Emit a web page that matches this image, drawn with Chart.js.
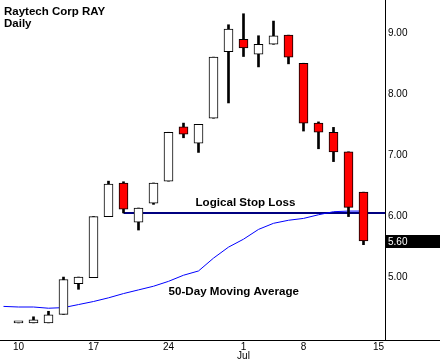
<!DOCTYPE html>
<html>
<head>
<meta charset="utf-8">
<script src="https://cdn.jsdelivr.net/npm/chart.js@4.4.1/dist/chart.umd.min.js"></script>
<style>
  html, body { margin: 0; padding: 0; background: #ffffff; }
  #wrap { width: 440px; height: 361px; }
</style>
</head>
<body>
<div id="wrap"><canvas id="chart"></canvas></div>
<script>
// daily bars, Jun 10 .. Jul 12
const days = ['Jun 10', 'Jun 11', 'Jun 12', 'Jun 13', 'Jun 14',
              'Jun 17', 'Jun 18', 'Jun 19', 'Jun 20', 'Jun 21',
              'Jun 24', 'Jun 25', 'Jun 26', 'Jun 27', 'Jun 28',
              'Jul 1', 'Jul 2', 'Jul 3', 'Jul 5',
              'Jul 8', 'Jul 9', 'Jul 10', 'Jul 11', 'Jul 12']
const open  = [4.26, 4.26, 4.26, 4.40, 4.90, 5.00, 6.00, 6.55, 5.91, 6.22, 6.58, 7.47, 7.20, 7.61, 8.70, 8.90, 8.66, 8.82, 8.97, 8.51, 7.53, 7.38, 7.06, 6.40]
const high  = [4.26, 4.36, 4.45, 5.01, 5.01, 6.00, 6.58, 6.57, 6.14, 6.55, 7.38, 7.53, 7.51, 8.61, 9.14, 9.32, 8.96, 9.20, 8.97, 8.51, 7.55, 7.46, 7.06, 6.40]
const low   = [4.26, 4.26, 4.26, 4.40, 4.81, 5.00, 6.00, 6.06, 5.78, 6.20, 6.58, 7.29, 7.05, 7.61, 7.86, 8.62, 8.45, 8.82, 8.50, 7.40, 7.11, 6.90, 6.00, 5.54]
const close = [4.26, 4.31, 4.39, 4.97, 5.01, 6.00, 6.53, 6.12, 6.14, 6.55, 7.38, 7.35, 7.51, 8.61, 9.07, 8.76, 8.82, 8.96, 8.61, 7.53, 7.38, 7.06, 6.15, 5.60]

// 50-day moving average, starts one bar before Jun 10 (Jun 7)
const maStart = -1
const ma50 = [4.53, 4.52, 4.52, 4.50, 4.51, 4.56, 4.61, 4.67, 4.74, 4.80, 4.86, 4.94, 5.04,
              5.11, 5.32, 5.50, 5.63, 5.79, 5.89, 5.94, 5.97, 6.03, 6.08, 6.09, 6.09]

// stop loss = low of Jun 19
const stopLoss = 6.06
const stopFrom = 7

// x axis: bar index -> label (Jul 15 is the next, empty, bar)
const tickIndex  = [0, 5, 10, 15, 19, 24]
const tickLabels = ['10', '17', '24', ['1', 'Jul'], '8', '15']
const priceTicks = [5, 6, 7, 8, 9]

const FONT = "'Liberation Sans', Arial, sans-serif"
Chart.defaults.font.family = FONT
Chart.defaults.color = '#000000'

const xMin = -1.2333, xMax = 24.4333

const overlay = {
    id: 'overlay',
    afterDraw(chart) {
        const ctx = chart.ctx
        const area = chart.chartArea
        const xs = chart.scales.x, ys = chart.scales.y
        ctx.save()

        // bottom axis line runs under the price labels too
        ctx.strokeStyle = '#000'
        ctx.lineWidth = 1
        ctx.beginPath()
        ctx.moveTo(area.right, Math.round(area.bottom) + 0.5)
        ctx.lineTo(chart.width, Math.round(area.bottom) + 0.5)
        ctx.stroke()

        // last price box
        const last = close[close.length - 1]
        const ly = ys.getPixelForValue(last)
        ctx.fillStyle = '#000'
        ctx.fillRect(area.right + 1, Math.round(ly) - 6, chart.width - area.right, 13)
        ctx.fillStyle = '#fff'
        ctx.font = '10px ' + FONT
        ctx.textBaseline = 'middle'
        ctx.textAlign = 'left'
        ctx.fillText(last.toFixed(2), area.right + 3, Math.round(ly) + 1)

        // notes
        ctx.fillStyle = '#000'
        ctx.font = 'bold 11.6px ' + FONT
        ctx.textAlign = 'center'
        ctx.textBaseline = 'alphabetic'
        ctx.fillText('Logical Stop Loss', xs.getPixelForValue(15.13), ys.getPixelForValue(6.17))
        ctx.fillText('50-Day Moving Average', xs.getPixelForValue(14.35), ys.getPixelForValue(4.72))

        // title
        ctx.textAlign = 'left'
        ctx.font = 'bold 11.5px ' + FONT
        ctx.fillText('Raytech Corp RAY', 4, 15)
        ctx.fillText('Daily', 4, 27)
        ctx.restore()
    }
}

const chart = new Chart(document.getElementById('chart'), {
    type: 'bar',
    data: {
        datasets: [
            {
                type: 'line',
                label: 'Stop',
                data: [{x: stopFrom, y: stopLoss}, {x: xMax, y: stopLoss}],
                borderColor: '#000080',
                borderWidth: 2,
                pointRadius: 0,
                order: 4
            },
            {
                type: 'line',
                label: '50-Day MA',
                data: ma50.map((v, i) => ({x: maStart + i, y: v})),
                borderColor: '#0000ff',
                borderWidth: 1,
                pointRadius: 0,
                tension: 0,
                order: 3
            },
            {
                label: 'Range',
                data: days.map((d, i) => ({x: i, y: [low[i], high[i]]})),
                backgroundColor: '#000000',
                barThickness: 2,
                grouped: false,
                order: 2
            },
            {
                label: 'Body',
                data: days.map((d, i) => ({x: i, y: [open[i], close[i]]})),
                backgroundColor: days.map((d, i) => close[i] >= open[i] ? '#ffffff' : '#ff0000'),
                borderColor: '#000000',
                borderWidth: 1,
                borderSkipped: false,
                barThickness: 9,
                minBarLength: 2,
                grouped: false,
                order: 1
            }
        ]
    },
    options: {
        responsive: true,
        maintainAspectRatio: false,
        animation: false,
        devicePixelRatio: 1,
        layout: { padding: 0 },
        plugins: {
            legend: { display: false },
            tooltip: { enabled: false },
            title: { display: false }
        },
        scales: {
            x: {
                type: 'linear',
                min: xMin,
                max: xMax,
                offset: false,
                grid: { display: false, drawTicks: false },
                border: { display: true, color: '#000', width: 1 },
                afterBuildTicks: s => { s.ticks = tickIndex.map(v => ({value: v})) },
                afterFit: s => { s.height = 21; s.paddingLeft = 0; s.paddingRight = 0 },
                ticks: {
                    autoSkip: false,
                    maxRotation: 0,
                    padding: 2,
                    font: { size: 10, lineHeight: 0.95 },
                    color: '#000',
                    callback: v => tickLabels[tickIndex.indexOf(v)]
                }
            },
            y: {
                type: 'linear',
                position: 'right',
                min: 3.98,
                max: 9.545,
                grid: { display: false, drawTicks: false },
                border: { display: true, color: '#000', width: 1 },
                afterBuildTicks: s => { s.ticks = priceTicks.map(v => ({value: v})) },
                afterFit: s => { s.width = 55; s.paddingTop = 0; s.paddingBottom = 0 },
                ticks: {
                    padding: 3,
                    font: { size: 10 },
                    color: '#000',
                    callback: v => v.toFixed(2)
                }
            }
        }
    },
    plugins: [overlay]
})
</script>
</body>
</html>
